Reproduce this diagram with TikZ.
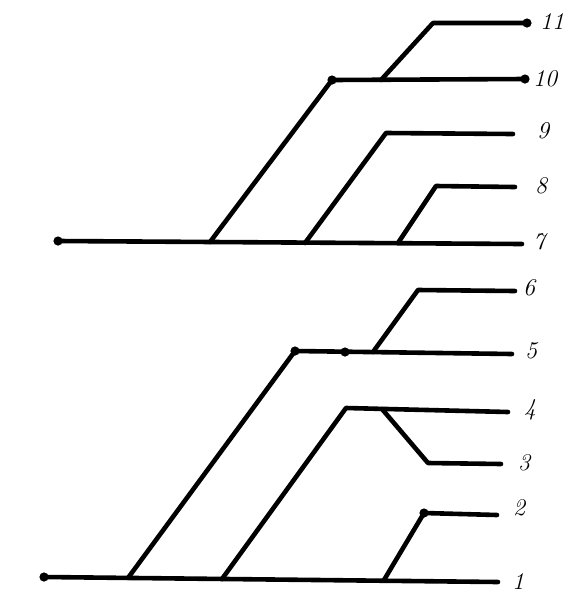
\documentclass[tikz,border=0pt]{standalone}
\begin{document}
\begin{tikzpicture}[x=0.5pt,y=-0.5pt,
    br/.style={line width=2.3pt,line cap=round,line join=round},
    num/.style={font=\large\itshape,inner sep=1pt},
    blob/.style={circle,fill,inner sep=0pt,minimum size=4.6pt}]
  \useasboundingbox (0,0) rectangle (580,612);
  % lower tree
  \coordinate (a0) at (44,577);
  \coordinate (a1) at (128,578);
  \coordinate (a2) at (222,579);
  \coordinate (a3) at (384,580);
  \coordinate (e1) at (498,582);
  \coordinate (c2) at (424,513);
  \coordinate (e2) at (497,515);
  \coordinate (c4) at (346,408);
  \coordinate (e4) at (508,412);
  \coordinate (b3) at (382,409);
  \coordinate (c3) at (428,463);
  \coordinate (e3) at (501,464);
  \coordinate (c5) at (295,351);
  \coordinate (m5) at (345,352);
  \coordinate (e5) at (512,354);
  \coordinate (b6) at (373,352);
  \coordinate (c6) at (418,290);
  \coordinate (e6) at (515,291);
  % upper tree
  \coordinate (t0) at (58,241);
  \coordinate (t1) at (210,242);
  \coordinate (t2) at (305,243);
  \coordinate (t3) at (398,243);
  \coordinate (e7) at (522,244);
  \coordinate (c10) at (332,80);
  \coordinate (u11) at (381,80);
  \coordinate (e10) at (525,79);
  \coordinate (c11) at (433,23);
  \coordinate (e11) at (527,23);
  \coordinate (c9) at (386,133);
  \coordinate (e9) at (513,134);
  \coordinate (c8) at (436,186);
  \coordinate (e8) at (515,187);
  \foreach \k/\x/\y in {1/518/582,2/519/508,3/524/463,4/530/410,5/531/351,6/529/288,
      7/539/242,8/541/186,9/543/131,10/545/79,11/552/22}
    \node[num] (n\k) at (\x,\y) {\k};
  \draw[br] (a0) -- (e1);
  \draw[br] (a3) -- (c2) -- (e2);
  \draw[br] (a2) -- (c4) -- (e4);
  \draw[br] (b3) -- (c3) -- (e3);
  \draw[br] (a1) -- (c5) -- (e5);
  \draw[br] (b6) -- (c6) -- (e6);
  \draw[br] (t0) -- (e7);
  \draw[br] (t1) -- (c10) -- (e10);
  \draw[br] (u11) -- (c11) -- (e11);
  \draw[br] (t2) -- (c9) -- (e9);
  \draw[br] (t3) -- (c8) -- (e8);
  \foreach \p in {a0,t0,c2,m5,c5,c10,e10,e11}
    \node[blob] at (\p) {};
\end{tikzpicture}
\end{document}
